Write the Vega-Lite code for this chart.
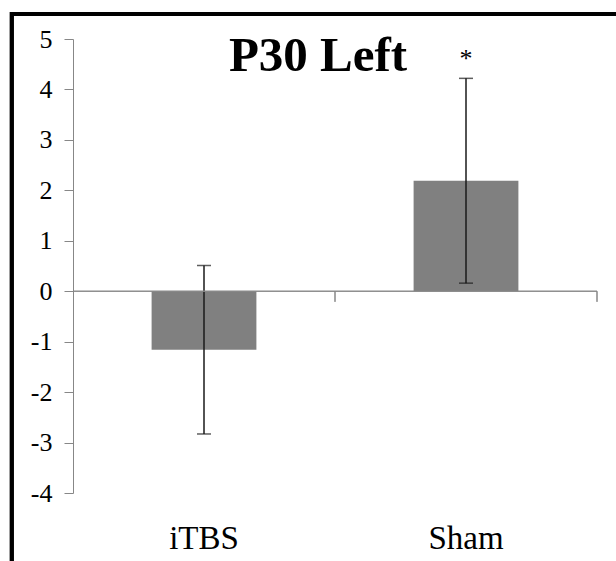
{
  "$schema": "https://vega.github.io/schema/vega-lite/v6.json",
  "width": 524,
  "height": 454,
  "autosize": {"type": "none"},
  "padding": {"left": 73, "top": 39, "right": 19, "bottom": 68},
  "background": "white",
  "config": {
    "view": {"stroke": null},
    "font": "Liberation Serif",
    "axis": {"labelFont": "Liberation Serif", "labelColor": "black", "grid": false},
    "axisY": {
      "labelFont": "Liberation Serif",
      "labelFontSize": 26,
      "labelColor": "black",
      "labelPadding": 12,
      "labelBaseline": "middle",
      "domainColor": "#878787",
      "tickColor": "#878787",
      "tickSize": 9,
      "tickWidth": 1,
      "domainWidth": 1
    }
  },
  "title": {
    "text": "P30 Left",
    "font": "Liberation Serif",
    "fontSize": 49,
    "fontWeight": "bold",
    "color": "black",
    "anchor": "middle",
    "frame": "group",
    "orient": "none",
    "offset": 0,
    "baseline": "alphabetic",
    "dx": 245,
    "dy": 32
  },
  "data": {
    "values": [
      {"group": "iTBS", "mean": -1.16, "lo": -2.83, "hi": 0.51, "sig": ""},
      {"group": "Sham", "mean": 2.19, "lo": 0.16, "hi": 4.22, "sig": "*"}
    ]
  },
  "layer": [
    {
      "encoding": {
        "x": {
          "field": "group",
          "type": "nominal",
          "sort": ["iTBS", "Sham"],
          "scale": {"paddingInner": 0.6, "paddingOuter": 0.3},
          "axis": {
            "title": null,
            "orient": "bottom",
            "domain": false,
            "ticks": false,
            "grid": false,
            "labelAngle": 0,
            "labelFont": "Liberation Serif",
            "labelFontSize": 33,
            "labelColor": "black",
            "labelBaseline": "top",
            "labelPadding": 29
          }
        }
      },
      "layer": [
        {
          "mark": {"type": "bar", "color": "#808080"},
          "encoding": {
            "y": {
              "field": "mean",
              "type": "quantitative",
              "scale": {"domain": [-4, 5], "nice": false, "zero": false},
              "axis": {
                "title": null,
                "values": [-4, -3, -2, -1, 0, 1, 2, 3, 4, 5],
                "labelExpr": "replace(datum.label, '\u2212', '-')",
                "grid": false,
                "labelFont": "Liberation Serif",
                "labelFontSize": 26,
                "labelColor": "black"
              }
            }
          }
        },
        {
          "mark": {"type": "rule", "color": "#1a1a1a", "strokeWidth": 1.5},
          "encoding": {
            "y": {"field": "lo", "type": "quantitative", "scale": {"domain": [-4, 5], "nice": false, "zero": false}},
            "y2": {"field": "hi"}
          }
        },
        {
          "mark": {"type": "tick", "color": "#1a1a1a", "orient": "horizontal", "size": 14, "thickness": 1.5},
          "encoding": {
            "y": {"field": "hi", "type": "quantitative", "scale": {"domain": [-4, 5], "nice": false, "zero": false}}
          }
        },
        {
          "mark": {"type": "tick", "color": "#1a1a1a", "orient": "horizontal", "size": 14, "thickness": 1.5},
          "encoding": {
            "y": {"field": "lo", "type": "quantitative", "scale": {"domain": [-4, 5], "nice": false, "zero": false}}
          }
        },
        {
          "mark": {"type": "text", "font": "Liberation Serif", "fontSize": 26, "color": "black", "baseline": "alphabetic", "align": "center", "dy": -11},
          "encoding": {
            "y": {"field": "hi", "type": "quantitative", "scale": {"domain": [-4, 5], "nice": false, "zero": false}},
            "text": {"field": "sig"}
          }
        }
      ]
    },
    {
      "layer": [
        {
          "mark": {"type": "rule", "color": "#878787", "strokeWidth": 1},
          "encoding": {
            "x": {"datum": 0, "type": "quantitative", "scale": {"domain": [0, 1], "nice": false, "zero": false}, "axis": null},
            "x2": {"datum": 1},
            "y": {"datum": 0, "type": "quantitative", "scale": {"domain": [-4, 5], "nice": false, "zero": false}}
          }
        },
        {
          "mark": {"type": "rule", "color": "#878787", "strokeWidth": 1},
          "encoding": {
            "x": {"datum": 0.5, "type": "quantitative", "scale": {"domain": [0, 1], "nice": false, "zero": false}, "axis": null},
            "y": {"datum": 0, "type": "quantitative", "scale": {"domain": [-4, 5], "nice": false, "zero": false}},
            "y2": {"datum": -0.21}
          }
        },
        {
          "mark": {"type": "rule", "color": "#878787", "strokeWidth": 1},
          "encoding": {
            "x": {"datum": 1, "type": "quantitative", "scale": {"domain": [0, 1], "nice": false, "zero": false}, "axis": null},
            "y": {"datum": 0, "type": "quantitative", "scale": {"domain": [-4, 5], "nice": false, "zero": false}},
            "y2": {"datum": -0.21}
          }
        },
        {
          "mark": {"type": "rect", "filled": false, "stroke": "black", "strokeWidth": 4},
          "encoding": {
            "x": {"datum": -0.1168, "type": "quantitative", "scale": {"domain": [0, 1], "nice": false, "zero": false}, "axis": null},
            "x2": {"datum": 1.082},
            "y": {"datum": 5.496, "type": "quantitative", "scale": {"domain": [-4, 5], "nice": false, "zero": false}},
            "y2": {"datum": -6.12}
          }
        }
      ]
    }
  ],
  "resolve": {"scale": {"x": "independent"}, "axis": {"x": "independent"}}
}
